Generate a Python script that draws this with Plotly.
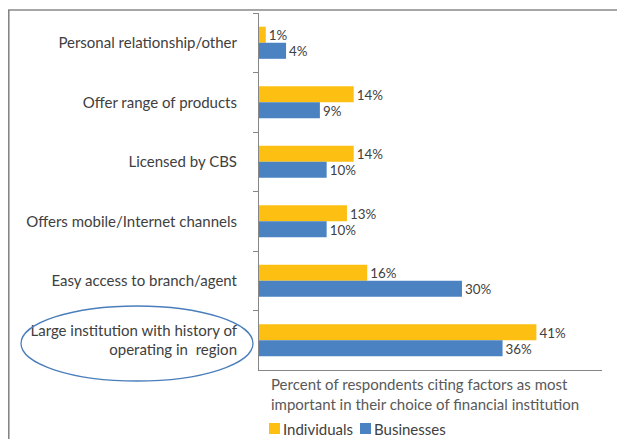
import plotly.graph_objects as go

categories = [
    "Personal relationship/other",
    "Offer range of products",
    "Licensed by CBS",
    "Offers mobile/Internet channels",
    "Easy access to branch/agent",
    "Large institution with history of<br>operating in  region",
]
individuals = [1, 14, 14, 13, 16, 41]
businesses = [4, 9, 10, 10, 30, 36]
series_names = ["Individuals", "Businesses"]
series_colors = ["#FDBF12", "#4A82C2"]
axis_note = "Percent of respondents citing factors as most<br>important in their choice of financial institution"

# the page body has an 8px default margin; work in window pixels and convert
OFF = 8
W, H = 625 - OFF, 439 - OFF
# plot area in window pixels
X0, X1, Y0, Y1 = 259, 602, 13, 370
L, R, T, B = X0 - OFF, W - (X1 - OFF), Y0 - OFF, H - (Y1 - OFF)
pw, ph = X1 - X0, Y1 - Y0

def px(x):
    return (x - X0) / pw

def py(y):
    return (Y1 - y) / ph

font_family = "Lato, Liberation Sans, sans-serif"
txt = "#404040"
fs = 15

fig = go.Figure()
for name, vals, col in zip(series_names, [individuals, businesses], series_colors):
    fig.add_trace(go.Bar(
        y=categories, x=vals, name=name, orientation="h",
        marker=dict(color=col, line=dict(width=0)),
        texttemplate="%{x}%", textposition="outside",
        textfont=dict(size=fs, color=txt, family=font_family),
        cliponaxis=False, showlegend=False,
    ))

fig.update_layout(
    width=W, height=H,
    margin=dict(l=L, r=R, t=T, b=B, autoexpand=False),
    paper_bgcolor="white", plot_bgcolor="white",
    barmode="group", bargap=0.46, bargroupgap=0,
    font=dict(family=font_family, size=fs, color=txt),
    xaxis=dict(range=[0, 50.7], showgrid=False, zeroline=False, showticklabels=False,
               showline=True, linecolor="#868686", linewidth=1, ticks="", automargin=False),
    yaxis=dict(autorange="reversed", showgrid=False, showline=True, linecolor="#868686",
               linewidth=1, ticks="outside", ticklen=5, tickcolor="#868686",
               tickson="boundaries", ticklabelstandoff=18, automargin=False,
               tickfont=dict(size=fs, color=txt, family=font_family)),
)

fig.add_annotation(text=axis_note, xref="paper", yref="paper", x=px(269), y=py(373),
                   xanchor="left", yanchor="top", align="left", showarrow=False,
                   font=dict(size=fs, color="#595959", family=font_family))

# legend (drawn manually to match the compact Excel-style layout)
leg_x = [269, 360]
for name, col, lx in zip(series_names, series_colors, leg_x):
    fig.add_shape(type="rect", xref="paper", yref="paper",
                  x0=px(lx), x1=px(lx + 11), y0=py(434), y1=py(423),
                  fillcolor=col, line=dict(width=0))
    fig.add_annotation(text=name, xref="paper", yref="paper", x=px(lx + 12), y=py(428.5),
                       xanchor="left", yanchor="middle", showarrow=False,
                       font=dict(size=fs, color=txt, family=font_family))

# highlight ellipse
fig.add_shape(type="circle", xref="paper", yref="paper",
              x0=px(21), x1=px(253), y0=py(381), y1=py(306),
              line=dict(color="#4A7EBB", width=1.3))
# frame lines
fig.add_shape(type="line", xref="paper", yref="paper", x0=px(8), x1=px(625),
              y0=py(10), y1=py(10), line=dict(color="#A6A6A6", width=2))
fig.add_shape(type="line", xref="paper", yref="paper", x0=px(8.8), x1=px(8.8),
              y0=py(10), y1=py(439), line=dict(color="#7F7F7F", width=1.5))

fig.write_html("out.html")
